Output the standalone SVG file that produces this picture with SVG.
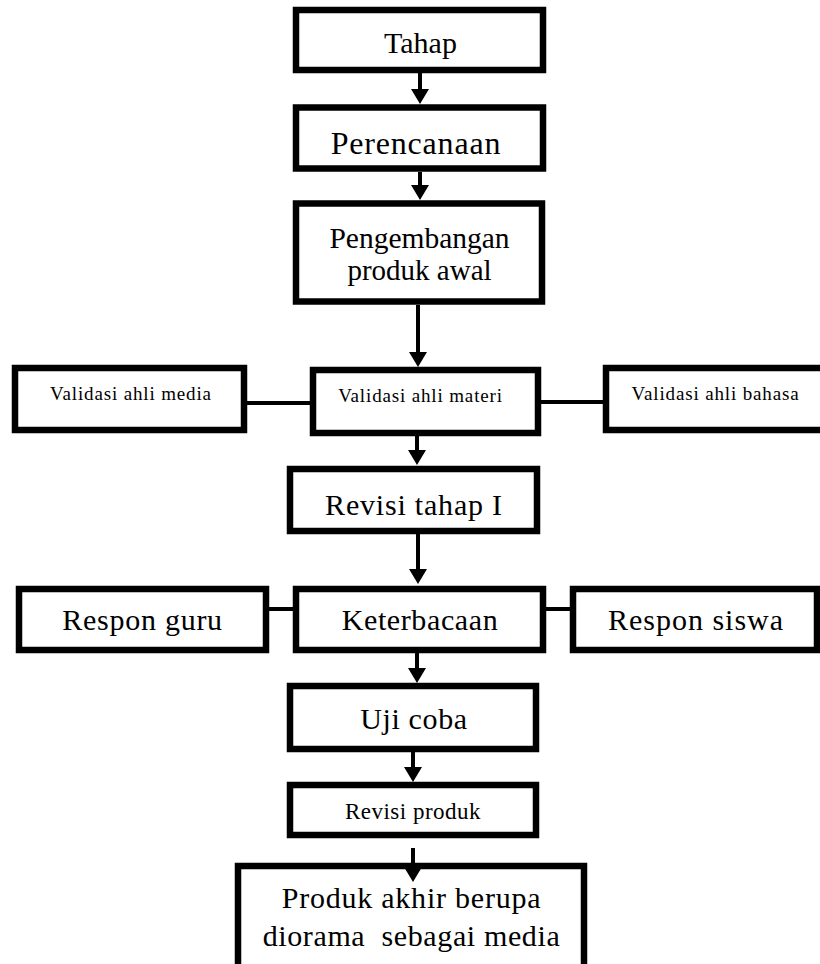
<svg xmlns="http://www.w3.org/2000/svg" width="820" height="964" viewBox="0 0 820 964">
<style>
.box{fill:#fff;stroke:#000;stroke-width:6.5}
.t{font-family:"Liberation Serif","Times New Roman",serif;fill:#000;text-anchor:middle;white-space:pre}
.big{font-size:30px}
.sm{font-size:19px;letter-spacing:0.85px}
.ln{stroke:#000;stroke-width:4;fill:none}
.ar{stroke:#000;stroke-width:4;fill:none;marker-end:url(#ah)}
</style>
<defs>
<marker id="ah" markerUnits="userSpaceOnUse" viewBox="0 0 15 18" markerWidth="15" markerHeight="18" refX="3" refY="9" orient="auto">
<path d="M0,0 L15,9 L0,18 z" fill="#000"/>
</marker>
</defs>
<rect width="820" height="964" fill="#fff"/>
<g id="n-tahap">
<rect class="box" x="296" y="10" width="247" height="60"/>
<text class="t big" x="420.5" y="53">Tahap</text>
</g>
<g id="n-perencanaan">
<rect class="box" x="296" y="107.5" width="247" height="61"/>
<text class="t big" x="416" y="154" style="font-size:32px;letter-spacing:0.8px">Perencanaan</text>
</g>
<g id="n-pengembangan">
<rect class="box" x="296" y="203.5" width="246" height="98"/>
<text class="t big" x="419.5" y="248" style="font-size:29.5px">Pengembangan</text>
<text class="t big" x="419.5" y="280" style="font-size:29px">produk awal</text>
</g>
<g id="n-media">
<rect class="box" x="15" y="368" width="229" height="62"/>
<text class="t sm" x="131" y="400">Validasi ahli media</text>
</g>
<g id="n-materi">
<rect class="box" x="313" y="370" width="225" height="63"/>
<text class="t sm" x="420.5" y="402">Validasi ahli materi</text>
</g>
<g id="n-bahasa">
<rect class="box" x="606" y="368" width="240" height="62"/>
<text class="t sm" x="715.5" y="400">Validasi ahli bahasa</text>
</g>
<g id="n-revisi1">
<rect class="box" x="290" y="469" width="247" height="62"/>
<text class="t big" x="414" y="515" style="letter-spacing:0.8px">Revisi tahap I</text>
</g>
<g id="n-guru">
<rect class="box" x="19" y="589" width="247" height="61"/>
<text class="t big" x="142.5" y="630" style="letter-spacing:0.75px">Respon guru</text>
</g>
<g id="n-keterbacaan">
<rect class="box" x="296" y="589" width="247" height="61"/>
<text class="t big" x="420" y="630" style="letter-spacing:0.6px">Keterbacaan</text>
</g>
<g id="n-siswa">
<rect class="box" x="573" y="589" width="244" height="61"/>
<text class="t big" x="696" y="630" style="letter-spacing:1px">Respon siswa</text>
</g>
<g id="n-ujicoba">
<rect class="box" x="290" y="686" width="246" height="63"/>
<text class="t big" x="414" y="729" style="letter-spacing:0.65px">Uji coba</text>
</g>
<g id="n-revisiproduk">
<rect class="box" x="290" y="785" width="246" height="50"/>
<text class="t" x="413" y="819" style="font-size:23px;letter-spacing:0.5px">Revisi produk</text>
</g>
<g id="n-produkakhir">
<rect class="box" x="238" y="866" width="346" height="110"/>
<text class="t big" x="411.5" y="908" style="letter-spacing:0.77px">Produk akhir berupa</text>
<text class="t big" x="411.5" y="946" style="letter-spacing:0.62px">diorama  sebagai media</text>
</g>
<g id="connectors">
<line class="ar" x1="420" y1="73" x2="420" y2="92"/>
<line class="ar" x1="420" y1="172" x2="420" y2="188"/>
<line class="ar" x1="418" y1="305" x2="418" y2="355"/>
<line class="ar" x1="417" y1="436" x2="417" y2="453"/>
<line class="ar" x1="418" y1="534" x2="418" y2="572"/>
<line class="ar" x1="417" y1="653" x2="417" y2="671"/>
<line class="ar" x1="413" y1="752" x2="413" y2="770"/>
<line class="ar" x1="413" y1="848" x2="413" y2="870"/>
<line class="ln" x1="247" y1="403" x2="310" y2="403"/>
<line class="ln" x1="541" y1="402" x2="603" y2="402"/>
<line class="ln" x1="269" y1="609" x2="293" y2="609"/>
<line class="ln" x1="546" y1="609" x2="570" y2="609"/>
</g>
</svg>
